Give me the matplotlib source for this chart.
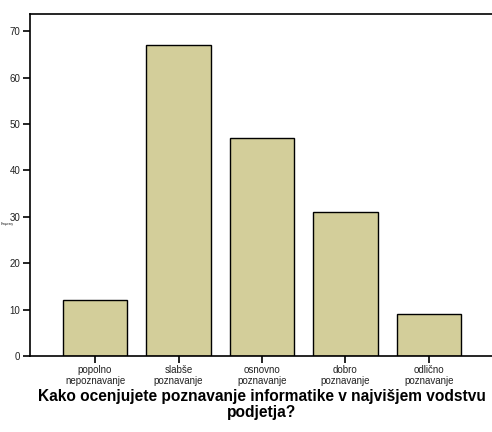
import numpy as np
import matplotlib.pyplot as plt

categories = ["popolno\nnepoznavanje", "slabše\npoznavanje", "osnovno\npoznavanje",
              "dobro\npoznavanje", "odlično\npoznavanje"]
counts = [12, 67, 47, 31, 9]
yticks = [0, 10, 20, 30, 40, 50, 60, 70]

plt.rcParams['font.family'] = ['Liberation Sans', 'DejaVu Sans']

fig = plt.figure(figsize=(4.92, 4.32), dpi=100)
ax = fig.add_axes([30/492, 76/432, 464/492, 342/432])

x = np.arange(len(counts))
ax.bar(x, counts, width=0.77, color='#d3ce9a', edgecolor='black', linewidth=1.0)

ax.set_xlim(-0.78, 4.78)
ax.set_ylim(0, 73.7)
ax.set_yticks(yticks)
ax.set_xticks(x)
ax.set_xticklabels(categories, fontsize=7, color='#222222', linespacing=1.15)
ax.tick_params(axis='y', labelsize=7, labelcolor='#222222', length=5, width=1.2, pad=2)
ax.tick_params(axis='x', length=5, width=1.2, pad=1.5)
for s in ax.spines.values():
    s.set_linewidth(1.2)

ax.set_xlabel("Kako ocenjujete poznavanje informatike v najvišjem vodstvu\npodjetja?",
              fontsize=11.2, fontweight='bold', labelpad=2, linespacing=1.12)
fig.text(1/492, 1 - 224/432, "Frequency", fontsize=2, va='center', ha='left')

fig.savefig("out.png", dpi=100)
